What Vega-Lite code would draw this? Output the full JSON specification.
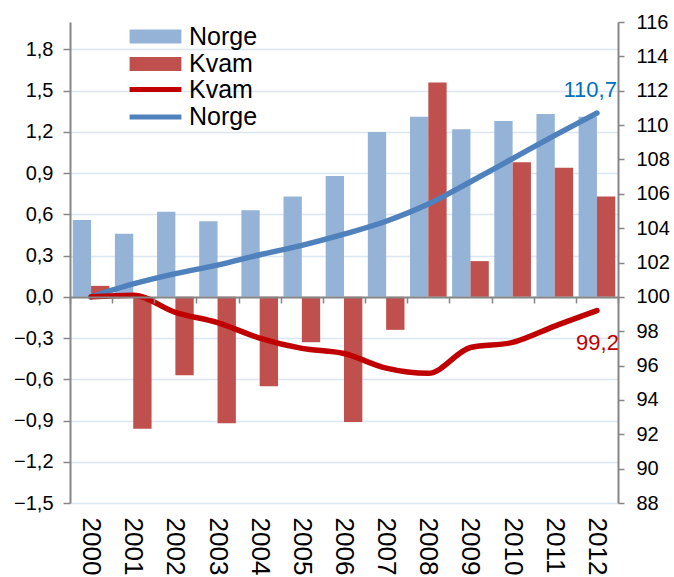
{
  "$schema": "https://vega.github.io/schema/vega-lite/v6.json",
  "width": 548,
  "height": 481,
  "autosize": "none",
  "padding": {"left": 70, "top": 22, "right": 56, "bottom": 74},
  "config": {"font": "Liberation Sans", "view": {"stroke": null}, "legend": {"padding": 0}},
  "datasets": {
    "bars": [
      {"year": "2000", "series": "Norge", "value": 0.56}, {"year": "2000", "series": "Kvam", "value": 0.08},
      {"year": "2001", "series": "Norge", "value": 0.46}, {"year": "2001", "series": "Kvam", "value": -0.96},
      {"year": "2002", "series": "Norge", "value": 0.62}, {"year": "2002", "series": "Kvam", "value": -0.57},
      {"year": "2003", "series": "Norge", "value": 0.55}, {"year": "2003", "series": "Kvam", "value": -0.92},
      {"year": "2004", "series": "Norge", "value": 0.63}, {"year": "2004", "series": "Kvam", "value": -0.65},
      {"year": "2005", "series": "Norge", "value": 0.73}, {"year": "2005", "series": "Kvam", "value": -0.33},
      {"year": "2006", "series": "Norge", "value": 0.88}, {"year": "2006", "series": "Kvam", "value": -0.91},
      {"year": "2007", "series": "Norge", "value": 1.20}, {"year": "2007", "series": "Kvam", "value": -0.24},
      {"year": "2008", "series": "Norge", "value": 1.31}, {"year": "2008", "series": "Kvam", "value": 1.56},
      {"year": "2009", "series": "Norge", "value": 1.22}, {"year": "2009", "series": "Kvam", "value": 0.26},
      {"year": "2010", "series": "Norge", "value": 1.28}, {"year": "2010", "series": "Kvam", "value": 0.98},
      {"year": "2011", "series": "Norge", "value": 1.33}, {"year": "2011", "series": "Kvam", "value": 0.94},
      {"year": "2012", "series": "Norge", "value": 1.31}, {"year": "2012", "series": "Kvam", "value": 0.73}
    ],
    "index": [
      {"year": "2000", "series": "Norge", "value": 100.0}, {"year": "2000", "series": "Kvam", "value": 100.0},
      {"year": "2001", "series": "Norge", "value": 100.75}, {"year": "2001", "series": "Kvam", "value": 100.1},
      {"year": "2002", "series": "Norge", "value": 101.35}, {"year": "2002", "series": "Kvam", "value": 99.1},
      {"year": "2003", "series": "Norge", "value": 101.85}, {"year": "2003", "series": "Kvam", "value": 98.5},
      {"year": "2004", "series": "Norge", "value": 102.45}, {"year": "2004", "series": "Kvam", "value": 97.6},
      {"year": "2005", "series": "Norge", "value": 103.0}, {"year": "2005", "series": "Kvam", "value": 97.0},
      {"year": "2006", "series": "Norge", "value": 103.65}, {"year": "2006", "series": "Kvam", "value": 96.7},
      {"year": "2007", "series": "Norge", "value": 104.4}, {"year": "2007", "series": "Kvam", "value": 95.85},
      {"year": "2008", "series": "Norge", "value": 105.4}, {"year": "2008", "series": "Kvam", "value": 95.55},
      {"year": "2009", "series": "Norge", "value": 106.7}, {"year": "2009", "series": "Kvam", "value": 97.05},
      {"year": "2010", "series": "Norge", "value": 108.05}, {"year": "2010", "series": "Kvam", "value": 97.35},
      {"year": "2011", "series": "Norge", "value": 109.4}, {"year": "2011", "series": "Kvam", "value": 98.3},
      {"year": "2012", "series": "Norge", "value": 110.7}, {"year": "2012", "series": "Kvam", "value": 99.2}
    ],
    "labels": [
      {"year": "2012", "series": "Norge", "value": 110.7, "label": "110,7"},
      {"year": "2012", "series": "Kvam", "value": 99.2, "label": "99,2"}
    ]
  },
  "layer": [
    {
      "data": {"name": "bars"},
      "mark": {"type": "bar"},
      "encoding": {
        "x": {
          "field": "year", "type": "nominal",
          "scale": {"paddingInner": 0, "paddingOuter": 0},
          "axis": {"title": null, "labelAngle": 90, "labelFontSize": 26, "ticks": false, "domain": false, "labelPadding": 14, "labelColor": "#000000", "grid": false}
        },
        "xOffset": {"field": "series", "type": "nominal", "sort": ["Norge", "Kvam"], "scale": {"paddingInner": 0, "paddingOuter": 0.15}},
        "y": {
          "field": "value", "type": "quantitative",
          "scale": {"domain": [-1.5, 2.0], "nice": false, "zero": false},
          "axis": {
            "orient": "left", "title": null,
            "values": [-1.5, -1.2, -0.9, -0.6, -0.3, 0, 0.3, 0.6, 0.9, 1.2, 1.5, 1.8],
            "labelExpr": "replace(format(datum.value, '.1f'), '.', ',')",
            "grid": true, "gridColor": "#dce6f2", "gridWidth": 1.5,
            "domainColor": "#868686", "domainWidth": 2,
            "tickColor": "#868686", "tickWidth": 1.5, "tickSize": 7,
            "labelFontSize": 20, "labelPadding": 10, "labelColor": "#000000"
          }
        },
        "fill": {
          "field": "series", "type": "nominal",
          "scale": {"domain": ["Norge", "Kvam"], "range": ["#95b3d7", "#c0504d"]},
          "legend": {
            "orient": "none", "legendX": 73, "legendY": 2, "title": null,
            "symbolType": "M-3.7,-1H3.7V1H-3.7Z", "symbolSize": 196, "symbolStrokeWidth": 0,
            "labelFontSize": 25, "labelOffset": 21, "rowPadding": 1.5, "labelColor": "#000000"
          }
        }
      }
    },
    {
      "data": {"name": "index"},
      "mark": {"type": "line", "strokeWidth": 5.5, "interpolate": "monotone", "strokeCap": "round"},
      "encoding": {
        "x": {
          "field": "year", "type": "nominal",
          "axis": {"orient": "bottom", "offset": -206, "labels": false, "ticks": true, "tickBand": "extent", "tickSize": 6, "tickWidth": 1.5, "tickColor": "#868686", "domainColor": "#868686", "domainWidth": 2, "title": null, "zindex": 1, "grid": false}
        },
        "y": {
          "field": "value", "type": "quantitative",
          "scale": {"domain": [88, 116], "nice": false, "zero": false},
          "axis": {
            "orient": "right", "title": null,
            "values": [88, 90, 92, 94, 96, 98, 100, 102, 104, 106, 108, 110, 112, 114, 116],
            "grid": false, "domainColor": "#868686", "domainWidth": 2,
            "tickColor": "#868686", "tickWidth": 1.5, "tickSize": 6,
            "labelFontSize": 20, "labelPadding": 12, "labelColor": "#000000"
          }
        },
        "stroke": {
          "field": "series", "type": "nominal",
          "scale": {"domain": ["Kvam", "Norge"], "range": ["#c00000", "#4f81bd"]},
          "legend": {
            "orient": "none", "legendX": 73, "legendY": 55, "title": null,
            "symbolType": "M-3.7,0H3.7", "symbolSize": 196, "symbolStrokeWidth": 5,
            "labelFontSize": 25, "labelOffset": 21, "rowPadding": 1.5, "labelColor": "#000000"
          }
        }
      }
    },
    {
      "data": {"name": "labels"},
      "transform": [{"filter": "datum.series == 'Norge'"}],
      "mark": {"type": "text", "align": "right", "baseline": "middle", "dx": 20, "dy": -23, "fontSize": 22, "color": "#0070c0"},
      "encoding": {
        "x": {"field": "year", "type": "nominal", "axis": null},
        "y": {"field": "value", "type": "quantitative", "scale": {"domain": [88, 116], "nice": false, "zero": false}, "axis": null},
        "text": {"field": "label"}
      }
    },
    {
      "data": {"name": "labels"},
      "transform": [{"filter": "datum.series == 'Kvam'"}],
      "mark": {"type": "text", "align": "right", "baseline": "middle", "dx": 22, "dy": 32, "fontSize": 22, "color": "#c00000"},
      "encoding": {
        "x": {"field": "year", "type": "nominal", "axis": null},
        "y": {"field": "value", "type": "quantitative", "scale": {"domain": [88, 116], "nice": false, "zero": false}, "axis": null},
        "text": {"field": "label"}
      }
    }
  ],
  "resolve": {"scale": {"y": "independent"}, "axis": {"x": "independent", "y": "independent"}}
}
